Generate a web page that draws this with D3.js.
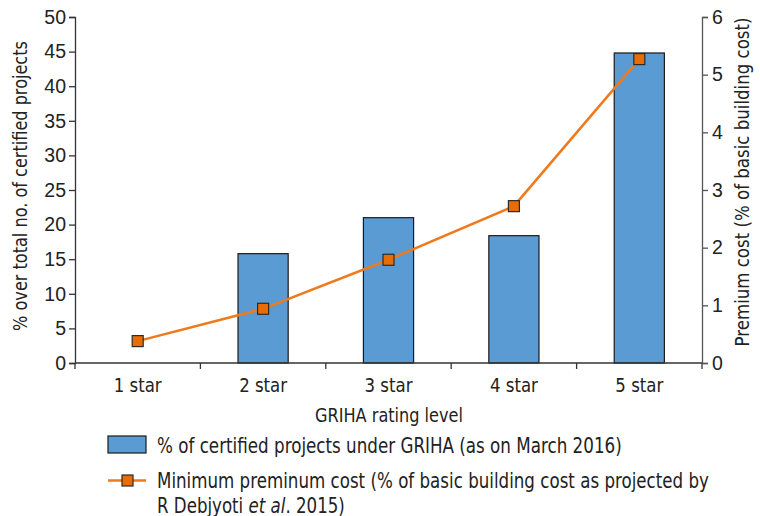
<!DOCTYPE html>
<html>
<head>
<meta charset="utf-8">
<script src="https://cdn.jsdelivr.net/npm/d3@7"></script>
<style>
	body { margin: 0; background: #fff; }
	.narrow { font-family: "DejaVu Sans", sans-serif; }
</style>
</head>
<body>
<div id="chart"></div>
<script>
// data
var categories = ["1 star", "2 star", "3 star", "4 star", "5 star"];
var certified = [0, 15.8, 21, 18.4, 44.8];
var premium = [0.38, 0.94, 1.79, 2.72, 5.27];
var leftTicks = [0, 5, 10, 15, 20, 25, 30, 35, 40, 45, 50];
var rightTicks = [0, 1, 2, 3, 4, 5, 6];

var W = 760, H = 516;
var m = { left: 75, right: 702, top: 17, bottom: 363 };
var tickFont = '"Liberation Sans", Arial, sans-serif';

var svg = d3.select("#chart").append("svg")
	.attr("width", W)
	.attr("height", H);

// condensed look: draw text at origin, then squeeze it to a target width
function narrowText(parent, str, px, tx, ty, width, anchor, rot) {
	var g = parent.append("g");
	var t = g.append("text")
		.attr("class", "narrow")
		.attr("text-anchor", anchor || "start")
		.style("font-size", px + "px")
		.attr("fill", "#222");
	if (typeof str === "string") t.text(str);
	else str(t);
	var w = t.node().getComputedTextLength();
	g.attr("transform", "translate(" + tx + "," + ty + ")" +
		(rot ? " rotate(" + rot + ")" : "") +
		" scale(" + (width / w) + ",1)");
	return g;
}

var x = d3.scaleBand()
	.domain(categories)
	.range([m.left, m.right])
	.paddingInner(0.6)
	.paddingOuter(0.3);
var y = d3.scaleLinear().domain([0, 50]).range([m.bottom, m.top]);
var y2 = d3.scaleLinear().domain([0, 6]).range([m.bottom, m.top]);

// bars
svg.append("g")
	.selectAll("rect")
	.data(categories.map((c, i) => ({ c: c, v: certified[i] })).filter(d => d.v > 0))
	.join("rect")
	.attr("x", d => x(d.c))
	.attr("y", d => y(d.v))
	.attr("width", x.bandwidth())
	.attr("height", d => y(0) - y(d.v))
	.attr("fill", "#5b9bd3")
	.attr("stroke", "#1a1a1a")
	.attr("stroke-width", 1.2);

// x axis with ticks on band boundaries
var bounds = d3.range(categories.length + 1).map(i => m.left + i * (m.right - m.left) / categories.length);
svg.append("line")
	.attr("x1", m.left).attr("x2", m.right)
	.attr("y1", m.bottom).attr("y2", m.bottom)
	.attr("stroke", "#333").attr("stroke-width", 1.3);
svg.append("g")
	.selectAll("line")
	.data(bounds)
	.join("line")
	.attr("x1", d => d).attr("x2", d => d)
	.attr("y1", m.bottom).attr("y2", m.bottom + 6)
	.attr("stroke", "#333").attr("stroke-width", 1.3);
categories.forEach(function (c) {
	narrowText(svg, c, 19, x(c) + x.bandwidth() / 2, 392, 48, "middle");
});

// left axis
var gl = svg.append("g")
	.attr("transform", "translate(" + m.left + ",0)")
	.call(d3.axisLeft(y).tickValues(leftTicks).tickSize(6).tickPadding(3));
gl.selectAll("text").style("font-family", tickFont).style("font-size", "19.5px").attr("fill", "#222");
gl.selectAll("path, line").attr("stroke", "#333").attr("stroke-width", 1.3);

// right axis
var gr = svg.append("g")
	.attr("transform", "translate(" + m.right + ",0)")
	.call(d3.axisRight(y2).tickValues(rightTicks).tickFormat(d3.format("d")).tickSize(6).tickPadding(4));
gr.selectAll("text").style("font-family", tickFont).style("font-size", "19.5px").attr("fill", "#222");
gr.selectAll("path, line").attr("stroke", "#555").attr("stroke-width", 1.3);

// line + markers
var pts = categories.map((c, i) => ({ c: c, v: premium[i] }));
svg.append("path")
	.datum(pts)
	.attr("fill", "none")
	.attr("stroke", "#ee7a1c")
	.attr("stroke-width", 2.5)
	.attr("d", d3.line().x(d => x(d.c) + x.bandwidth() / 2).y(d => y2(d.v)));
svg.append("g")
	.selectAll("rect")
	.data(pts)
	.join("rect")
	.attr("x", d => x(d.c) + x.bandwidth() / 2 - 5.5)
	.attr("y", d => y2(d.v) - 5.5)
	.attr("width", 11)
	.attr("height", 11)
	.attr("fill", "#e96d06")
	.attr("stroke", "#2e2a26")
	.attr("stroke-width", 1.2);

// axis titles
narrowText(svg, "% over total no. of certified projects", 19.5, 27, 186, 290, "middle", -90);
narrowText(svg, "Premium cost (% of basic building cost)", 19.5, 749, 182, 329, "middle", -90);
narrowText(svg, "GRIHA rating level", 20, 389, 422, 148, "middle");

// legend
var lg = svg.append("g");
lg.append("rect")
	.attr("x", 108).attr("y", 436)
	.attr("width", 38).attr("height", 17)
	.attr("fill", "#5b9bd3").attr("stroke", "#1a1a1a").attr("stroke-width", 1.2);
narrowText(lg, "% of certified projects under GRIHA (as on March 2016)", 20.5, 157, 453, 465);
lg.append("line")
	.attr("x1", 108).attr("x2", 146)
	.attr("y1", 480.5).attr("y2", 480.5)
	.attr("stroke", "#ee7a1c").attr("stroke-width", 2.5);
lg.append("rect")
	.attr("x", 122).attr("y", 475)
	.attr("width", 11).attr("height", 11)
	.attr("fill", "#e96d06").attr("stroke", "#2e2a26").attr("stroke-width", 1.2);
narrowText(lg, "Minimum preminum cost (% of basic building cost as projected by", 20.5, 157, 488, 552);
narrowText(lg, function (t) {
	t.append("tspan").text("R Debjyoti ");
	t.append("tspan").style("font-style", "italic").text("et al");
	t.append("tspan").text(". 2015)");
}, 20.5, 157, 513, 188);
</script>
</body>
</html>
